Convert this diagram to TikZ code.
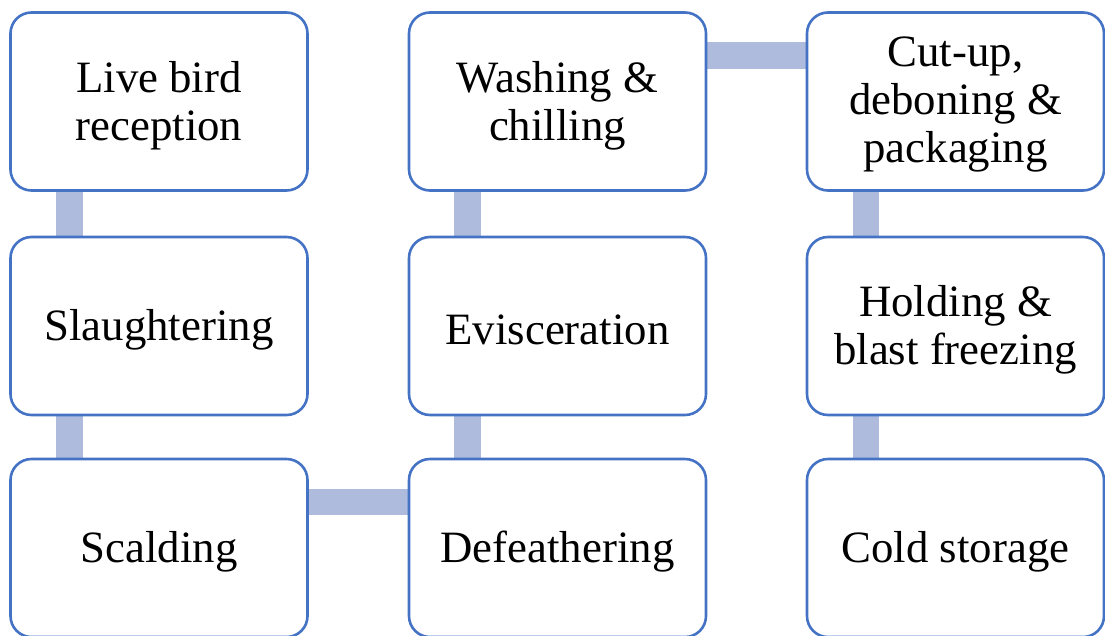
\documentclass[tikz,border=0pt]{standalone}
\usepackage{fontspec}
\setmainfont{Liberation Serif}
\usetikzlibrary{calc,backgrounds}
\definecolor{boxblue}{HTML}{4472C4}
\definecolor{barblue}{HTML}{AEBBDD}
\begin{document}
\begin{tikzpicture}[x=1pt,y=-1pt,
  stepbox/.style={draw=boxblue,line width=2.6pt,fill=white,rounded corners=21pt,
    minimum width=297pt,minimum height=178pt,inner sep=0pt},
  txt/.style={align=center,inner sep=0pt,font=\fontsize{44.8pt}{48pt}\selectfont},
  conn/.style={draw=barblue,line width=26.5pt}]
\useasboundingbox (0,0) rectangle (1105,635);
\node[stepbox] (a) at (159,101.5) {};
\node[stepbox] (b) at (159,326) {};
\node[stepbox] (c) at (159,548) {};
\node[stepbox] (d) at (557.5,548) {};
\node[stepbox] (e) at (557.5,326) {};
\node[stepbox] (f) at (557.5,101.5) {};
\node[stepbox] (g) at (955.5,101.5) {};
\node[stepbox] (h) at (955.5,326) {};
\node[stepbox] (i) at (955.5,548) {};
\node[txt] (ta) at ($(a)+(0,4)$) {Live bird\\reception};
\node[txt] (tb) at ($(b)+(0,4)$) {Slaughtering};
\node[txt] (tc) at ($(c)+(0,4)$) {Scalding};
\node[txt] (td) at ($(d)+(0,4)$) {Defeathering};
\node[txt] (te) at ($(e)+(0,4)$) {Evisceration};
\node[txt] (tf) at ($(f)+(0,4)$) {Washing \&\\chilling};
\node[txt] (tg) at ($(g)+(0,3)$) {Cut-up,\\deboning \&\\packaging};
\node[txt] (th) at ($(h)+(0,4)$) {Holding \&\\blast freezing};
\node[txt] (ti) at ($(i)+(0,4)$) {Cold storage};
\begin{scope}[on background layer]
\draw[conn] ($(a.south west)+(60.5,0)$) -- ($(b.north west)+(60.5,0)$);
\draw[conn] ($(b.south west)+(60.5,0)$) -- ($(c.north west)+(60.5,0)$);
\draw[conn] ($(c.north east)+(0,44.5)$) -- ($(d.north west)+(0,44.5)$);
\draw[conn] ($(d.north west)+(60,0)$) -- ($(e.south west)+(60,0)$);
\draw[conn] ($(e.north west)+(60,0)$) -- ($(f.south west)+(60,0)$);
\draw[conn] ($(f.north east)+(0,44.5)$) -- ($(g.north west)+(0,44.5)$);
\draw[conn] ($(g.south west)+(60.5,0)$) -- ($(h.north west)+(60.5,0)$);
\draw[conn] ($(h.south west)+(60.5,0)$) -- ($(i.north west)+(60.5,0)$);
\end{scope}
\end{tikzpicture}
\end{document}
